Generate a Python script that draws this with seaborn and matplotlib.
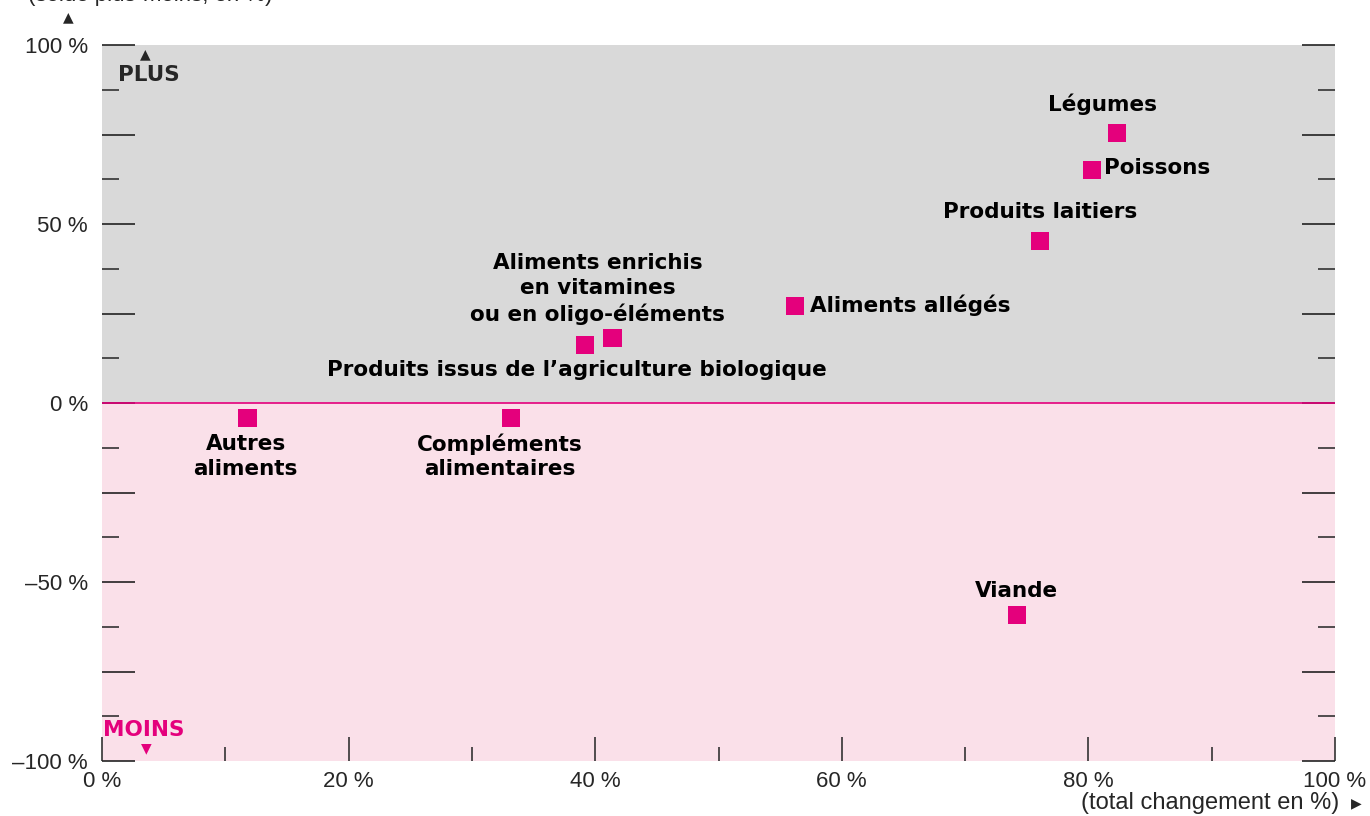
import matplotlib
matplotlib.use("Agg")
import matplotlib.pyplot as plt
import seaborn as sns
import pandas as pd
from matplotlib.ticker import MultipleLocator, FixedLocator

# --- Data ---
produits = ["Légumes", "Poissons", "Produits laitiers", "Aliments allégés",
            "Aliments enrichis\nen vitamines\nou en oligo-éléments",
            "Produits issus de l\u2019agriculture biologique",
            "Autres\naliments", "Compléments\nalimentaires", "Viande"]
total_changement = [82.3, 80.3, 76.1, 56.2, 41.4, 39.2, 11.8, 33.2, 74.2]
solde = [75.4, 65.1, 45.3, 27.1, 18.2, 16.2, -4.2, -4.2, -59.2]

df = pd.DataFrame({"produit": produits, "total": total_changement, "solde": solde})

# label placement (offset in points, alignment)
label_pos = {
    "Légumes": ((-10, 21), "center"),
    "Poissons": ((8.6, 1.2), "left"),
    "Produits laitiers": ((0, 21), "center"),
    "Aliments allégés": ((10.5, 0.7), "left"),
    "Aliments enrichis\nen vitamines\nou en oligo-éléments": ((-10.8, 35), "center"),
    "Produits issus de l\u2019agriculture biologique": ((-5.8, -18), "center"),
    "Autres\naliments": ((-1.4, -27.5), "center"),
    "Compléments\nalimentaires": ((-8, -27.5), "center"),
    "Viande": ((0, 17.3), "center"),
}

MAGENTA = "#E4007C"
GRIS = "#D9D9D9"
ROSE = "#FAE0E9"
BOLD = ["DejaVu Sans"]

sns.set_style("white")
plt.rcParams["font.family"] = ["Liberation Sans", "DejaVu Sans"]

fig = plt.figure(figsize=(13.7, 8.16), dpi=100)
ax = fig.add_axes([102 / 1370, 55 / 816, 1233 / 1370, 716 / 816])

ax.axhspan(0, 100, color=GRIS, zorder=0, lw=0)
ax.axhspan(-100, 0, color=ROSE, zorder=0, lw=0)
ax.axhline(0, color=MAGENTA, lw=1.2, zorder=1)

sns.scatterplot(data=df, x="total", y="solde", marker="s", s=170,
                color=MAGENTA, edgecolor="none", ax=ax, zorder=3, legend=False)

for _, r in df.iterrows():
    off, ha = label_pos[r["produit"]]
    ax.annotate(r["produit"], (r["total"], r["solde"]), xytext=off,
                textcoords="offset points", ha=ha, va="center", fontsize=15.5,
                fontweight="bold", family=BOLD, linespacing=1.3,
                color="black", zorder=4)

ax.set_xlim(0, 100)
ax.set_ylim(-100, 100)
for s in ax.spines.values():
    s.set_visible(False)

ax.xaxis.set_major_locator(MultipleLocator(20))
ax.xaxis.set_minor_locator(FixedLocator([10, 30, 50, 70, 90]))
ax.set_xticklabels([f"{int(v)} %" for v in ax.get_xticks()])
ax.yaxis.set_major_locator(MultipleLocator(25))
ax.yaxis.set_minor_locator(FixedLocator([-87.5, -62.5, -37.5, -12.5, 12.5, 37.5, 62.5, 87.5]))
ylabs = []
for v in ax.get_yticks():
    if v % 50 == 0:
        ylabs.append(f"{int(v)} %".replace("-", "\u2013"))
    else:
        ylabs.append("")
ax.set_yticklabels(ylabs)

ax.tick_params(axis="x", which="major", direction="in", length=17, width=1.2,
               bottom=True, top=False, labelsize=16, pad=7, color="#333333")
ax.tick_params(axis="x", which="minor", direction="in", length=10, width=1.2,
               bottom=True, top=False, color="#333333")
ax.tick_params(axis="y", which="major", direction="in", length=24, width=1.2,
               left=True, right=True, labelsize=16, pad=10, color="#222222")
ax.tick_params(axis="y", which="minor", direction="in", length=12, width=1.2,
               left=True, right=True, color="#333333")
ax.set_xlabel("")
ax.set_ylabel("")

# PLUS / MOINS markers
ax.text(1.3, 91.6, "PLUS", fontsize=15.5, fontweight="bold", family=BOLD,
        ha="left", va="center", zorder=4)
ax.text(3.5, 97.3, "\u25B2", fontsize=10, family=BOLD, ha="center", va="center")
ax.text(0.05, -91.3, "MOINS", fontsize=15.5, fontweight="bold", family=BOLD,
        color=MAGENTA, ha="left", va="center", zorder=4)
ax.text(3.6, -96.4, "\u25BC", fontsize=10, family=BOLD, color=MAGENTA,
        ha="center", va="center")

# axis titles
fig.text(68 / 1370, 1 - 17 / 816, "\u25B2", fontsize=10, family=BOLD,
         ha="center", va="center")
fig.text(150 / 1370, 1 + 4 / 816, "(solde plus-moins, en %)", fontsize=16,
         ha="center", va="center")
fig.text(1339 / 1370, 1 - 803 / 816, "(total changement en %)", fontsize=17,
         ha="right", va="center")
fig.text(1356 / 1370, 1 - 803 / 816, "\u25B6", fontsize=10, family=BOLD,
         ha="center", va="center")

fig.savefig("out.png", dpi=100)
